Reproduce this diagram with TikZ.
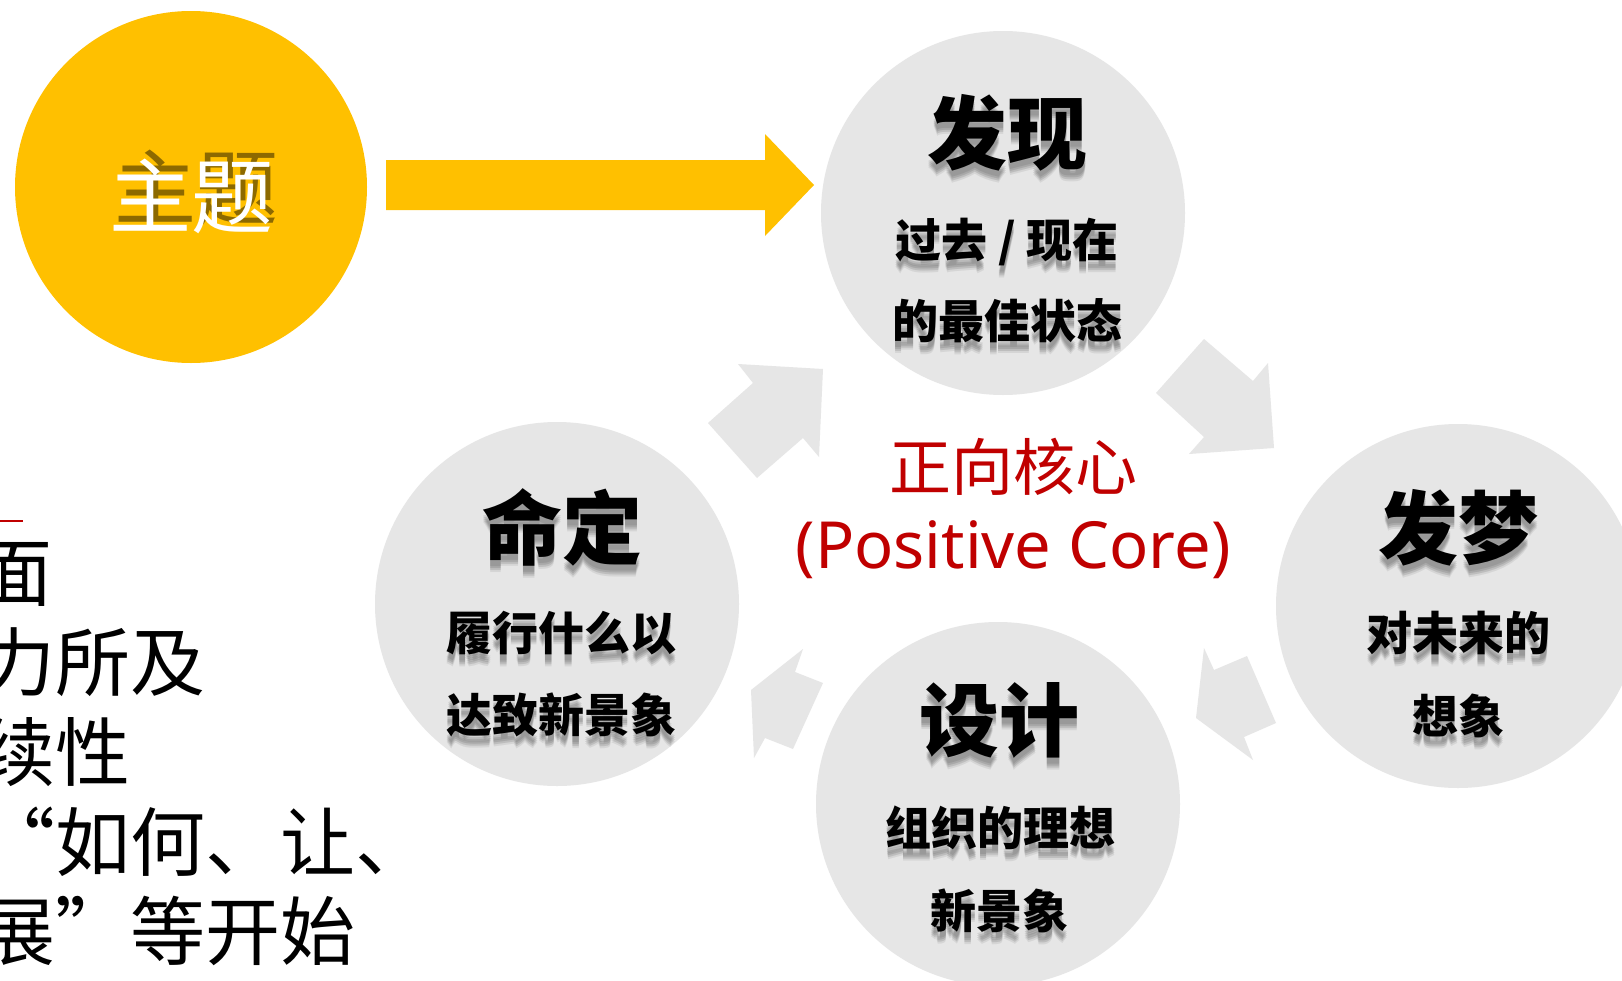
\documentclass[tikz,border=0pt]{standalone}
\usepackage{fontspec}
\usetikzlibrary{calc}
\newfontfamily\cjk{Noto Sans CJK SC}
\newfontfamily\latinf{Noto Sans}
\definecolor{ygold}{HTML}{FFC000}
\definecolor{lgray}{HTML}{E6E6E6}
\definecolor{cred}{HTML}{C00000}
\newcommand\shtext[4]{%
  \foreach \dy/\op in {6/0.09,8/0.11,10/0.11,12/0.07}{
    \node[#3, text=black, opacity=\op, anchor=base, inner sep=0pt] at ($(#2)+(0,\dy)$) {#4};
  }
  \node[#3, anchor=base, inner sep=0pt] (#1) at (#2) {#4};
}
\tikzset{
  blob/.style={circle, fill=lgray, inner sep=0pt, outer sep=0pt, minimum size=364pt},
  ttl/.style={font=\cjk\bfseries\fontsize{80}{80}\selectfont, text=black},
  sub/.style={font=\cjk\bfseries\fontsize{46}{46}\selectfont, text=black},
  side/.style={font=\cjk\fontsize{75}{75}\selectfont, text=black, anchor=base west, inner sep=0pt},
  garrow/.style={fill=lgray},
}
\begin{document}
\begin{tikzpicture}[x=1pt,y=-1pt]
\useasboundingbox (0,0) rectangle (1622,980);
\fill[white] (0,0) rectangle (1622,980);
\begin{scope}
\clip (0,0) rectangle (1622,980);

% circles
\node[circle, fill=ygold, inner sep=0pt, minimum size=352pt] (theme) at (191,187) {};
\node[blob] (disc) at (1003,213) {};
\node[blob] (dream) at (1458,606) {};
\node[blob] (design) at (998,804) {};
\node[blob] (destiny) at (557,604) {};

% yellow arrow
\fill[ygold] (386,160) -- (765,160) -- (765,134) -- (814,185) -- (765,236) -- (765,210) -- (386,210) -- cycle;

% gray cycle arrows
\fill[garrow] (738,364) -- (823,369) -- (819,457) -- (803,438) -- (757,478) -- (708,423) -- (753,383) -- cycle;
\fill[garrow] (1204,339) -- (1253,381) -- (1268,363) -- (1274,448) -- (1189,454) -- (1204,437) -- (1156,393) -- cycle;
\fill[garrow] (1204,648) -- (1214,670) -- (1247,656) -- (1276,723) -- (1244,737) -- (1253,760) -- (1196,718) -- cycle;
\fill[garrow] (803,649) -- (795,672) -- (823,683) -- (793,749) -- (765,738) -- (754,758) -- (751,690) -- cycle;

% theme text
\node[font=\cjk\fontsize{82}{82}\selectfont, text=black, opacity=0.45, anchor=base, inner sep=0pt] at (196,218) {主题};
\node[font=\cjk\fontsize{82}{82}\selectfont, text=white, anchor=base, inner sep=0pt] (themetxt) at (191,227) {主题};

% circle texts
\shtext{discT}{1007,163}{ttl}{发现}
\shtext{discA}{1007,257}{sub}{过去 / 现在}
\shtext{discB}{1007,338}{sub}{的最佳状态}

\shtext{destT}{562,558}{ttl}{命定}
\shtext{destA}{561,650}{sub}{履行什么以}
\shtext{destB}{561,732}{sub}{达致新景象}

\shtext{dreamT}{1458,558}{ttl}{发梦}
\shtext{dreamA}{1458,650}{sub}{对未来的}
\shtext{dreamB}{1458,733}{sub}{想象}

\shtext{desT}{999,750}{ttl}{设计}
\shtext{desA}{1000,845}{sub}{组织的理想}
\shtext{desB}{999,928}{sub}{新景象}

% center
\node[font=\cjk\fontsize{62}{62}\selectfont, text=cred, anchor=base, inner sep=0pt] (core) at (1013,490) {正向核心};
\node[font=\latinf\fontsize{65}{65}\selectfont, text=cred, anchor=base, inner sep=0pt] (corep) at (1013,568) {(Positive Core)};

% left text (clipped)
\draw[cred, line width=2pt] (0,521) -- (23,521);
\node[side] (l1) at (-23,600) {面};
\node[side] (l2) at (-20,690) {力所及};
\node[side] (l3) at (-20,780) {续性};
\node[side] (l4) at (-20,870) {“如何、让、};
\node[side] (l5) at (-20,959) {展”等开始};
\end{scope}
\end{tikzpicture}
\end{document}
